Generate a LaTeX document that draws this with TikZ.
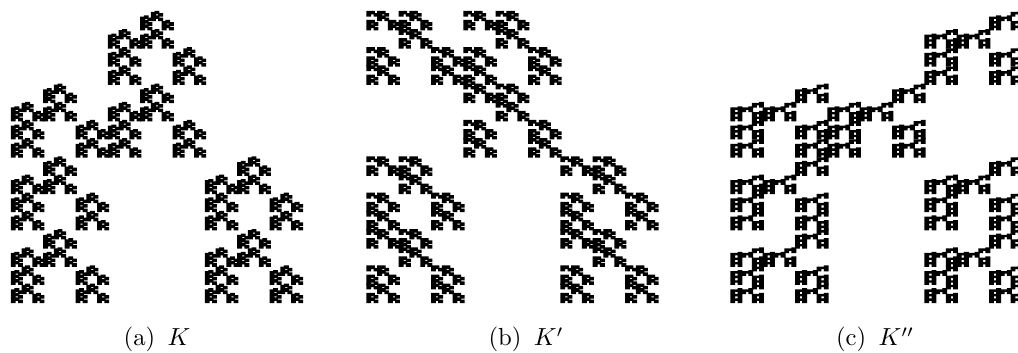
\documentclass[tikz,border=0pt]{standalone}
\makeatletter
% column / row sizes per level, in sp (1 unit = 1pt = 1 reference pixel)
\def\WA{6356992}\def\WB{2118997}\def\WC{706332}\def\WD{235444}
\def\HA{4767744}\def\HB{1191936}\def\HC{297984}\def\HD{74496}
\def\cw#1{\csname W\ifcase#1\or A\or B\or C\or D\fi\endcsname}
\def\ch#1{\csname H\ifcase#1\or A\or B\or C\or D\fi\endcsname}
\def\maxl{4}
\def\mrg{42000}
\def\sub#1#2#3#4#5{\begingroup\edef\x{\noexpand\rec{\the\numexpr#1+1}{\the\numexpr#2+#4*\cw{\numexpr#1+1\relax}}{\the\numexpr#3+#5*\ch{\numexpr#1+1\relax}}}\expandafter\endgroup\x}
\def\rec#1#2#3{%
 \ifnum#1=\maxl
  \pgfpathrectangle{\pgfqpoint{\numexpr#2-\mrg\relax sp}{\numexpr#3-\mrg\relax sp}}{\pgfqpoint{\numexpr\WD+2*\mrg\relax sp}{\numexpr\HD+2*\mrg\relax sp}}%
 \else
  \digs{#1}{#2}{#3}%
  \ifnum#1=2 \pgfusepath{fill}\fi
 \fi}
\def\common#1#2#3{\sub{#1}{#2}{#3}{0}{0}\sub{#1}{#2}{#3}{2}{0}\sub{#1}{#2}{#3}{0}{1}\sub{#1}{#2}{#3}{2}{1}}
\def\digKa#1#2#3{\common{#1}{#2}{#3}\sub{#1}{#2}{#3}{0}{2}\sub{#1}{#2}{#3}{1}{2}\sub{#1}{#2}{#3}{1}{3}}
\def\digKb#1#2#3{\common{#1}{#2}{#3}\sub{#1}{#2}{#3}{1}{2}\sub{#1}{#2}{#3}{0}{3}\sub{#1}{#2}{#3}{1}{3}}
\def\digKc#1#2#3{\common{#1}{#2}{#3}\sub{#1}{#2}{#3}{0}{2}\sub{#1}{#2}{#3}{1}{2}\sub{#1}{#2}{#3}{2}{3}}
\makeatother
\tikzset{capnode/.style={scale=2.47,anchor=base,inner sep=0pt}}
\begin{document}
\begin{tikzpicture}[x=1pt,y=1pt]
\useasboundingbox (0,0) rectangle (1018,353);
\clip (0,0) rectangle (1018,353);
\let\digs\digKa
\rec{0}{\numexpr753664\relax}{\numexpr3309568\relax}
\let\digs\digKb
\rec{0}{\numexpr24051712\relax}{\numexpr3309568\relax}
\let\digs\digKc
\rec{0}{\numexpr47906816\relax}{\numexpr3309568\relax}
\node[capnode] (capa) at (157,7) {\normalsize (a)\hspace{0.5em}$K$};
\node[capnode] (capb) at (526,7) {\normalsize (b)\hspace{0.5em}$K'$};
\node[capnode] (capc) at (875,7) {\normalsize (c)\hspace{0.5em}$K''$};
\end{tikzpicture}
\end{document}
